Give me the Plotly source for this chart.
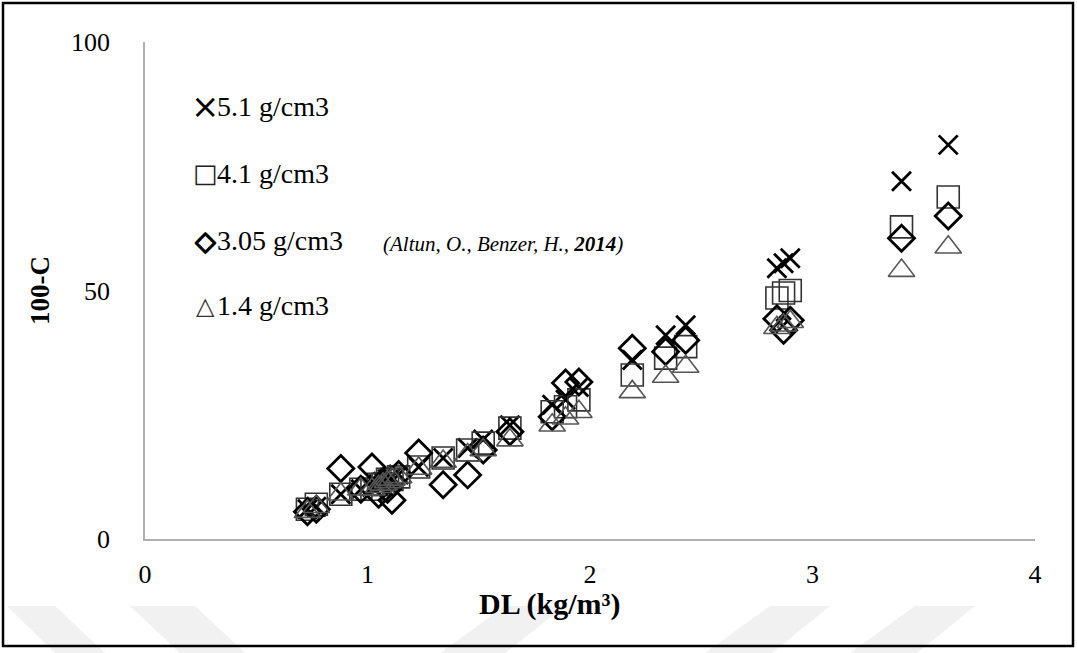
import plotly.graph_objects as go

# DL (kg/m3) values, shared by the four density series
dl = [0.73, 0.77, 0.88, 0.97, 1.02, 1.05, 1.07, 1.09, 1.11, 1.14, 1.23, 1.34, 1.45,
      1.52, 1.64, 1.83, 1.89, 1.95, 2.19, 2.34, 2.43, 2.84, 2.87, 2.90, 3.40, 3.61]

# 100-C values per density
y_51 = [6.0, 6.5, 9.0, 10.0, 10.5, 11.0, 11.5, 12.0, 12.5, 13.0, 14.5, 16.3, 18.3,
        20.0, 22.9, 27.0, 28.0, 30.6, 36.0, 41.0, 43.0, 54.5, 55.5, 56.5, 72.0, 79.3]
y_41 = [6.0, 7.0, 9.0, 10.0, 10.0, 11.0, 11.0, 12.0, 12.0, 12.5, 14.5, 16.3, 17.9,
        19.3, 22.3, 25.6, 26.6, 28.0, 33.0, 36.4, 38.7, 48.5, 49.5, 50.0, 62.8, 68.8]
y_305 = [5.5, 6.0, 14.2, 10.0, 14.5, 9.0, 11.0, 10.0, 7.8, 13.0, 17.3, 10.9, 12.9,
         17.9, 21.6, 24.6, 31.4, 31.6, 38.4, 37.7, 40.0, 44.3, 42.0, 44.0, 60.5, 65.0]
y_14 = [5.5, 6.5, 9.0, 10.0, 10.0, 10.5, 11.0, 11.5, 12.0, 12.5, 14.2, 15.6, 16.9,
        17.9, 19.9, 22.9, 24.3, 25.6, 29.6, 32.7, 34.7, 42.5, 43.0, 43.7, 54.0, 58.7]

series_names = ["5.1 g/cm3", "4.1 g/cm3", "3.05 g/cm3", "1.4 g/cm3"]
x_ticks = [0, 1, 2, 3, 4]
y_ticks = [0, 50, 100]

FONT = "Liberation Serif, Times New Roman, serif"

fig = go.Figure()
styles = [
    dict(symbol="x-thin-open", size=19, color="#000000", lw=2.8),
    dict(symbol="square-open", size=22, color="#333333", lw=1.6),
    dict(symbol="diamond-open", size=20, color="#000000", lw=2.8),
    dict(symbol="triangle-up-open", size=23, color="#555555", lw=1.6),
]
for name, ys, st in zip(series_names, [y_51, y_41, y_305, y_14], styles):
    fig.add_trace(go.Scatter(
        x=dl, y=ys, mode="markers", name=name, showlegend=False,
        marker=dict(symbol=st["symbol"], size=st["size"], color=st["color"],
                    line=dict(color=st["color"], width=st["lw"])),
    ))

# Excel-style in-plot legend: glyph + label
leg_y = [87.1, 73.6, 60.0, 46.9]
thick = "0.8px 0 0 #000, -0.8px 0 0 #000, 0 0.8px 0 #000, 0 -0.8px 0 #000"
glyphs = [("×", 34, "#000000", "none"), ("□", 26, "#222222", "none"),
          ("◇", 27, "#000000", thick), ("△", 24, "#333333", "none")]
for (g, gs, gc, sh), name, yy in zip(glyphs, series_names, leg_y):
    fig.add_annotation(x=0.27, y=yy, xref="x", yref="y", xanchor="center", yanchor="middle",
                       text=g, showarrow=False,
                       font=dict(family="DejaVu Sans", size=gs, color=gc, shadow=sh))
    fig.add_annotation(x=0.315, y=yy, xref="x", yref="y", xanchor="left", yanchor="middle",
                       text=name, showarrow=False,
                       font=dict(family=FONT, size=28, color="#000000"))
fig.add_annotation(x=1.06, y=59.4, xref="x", yref="y", xanchor="left", yanchor="middle",
                   text="<i>(Altun, O., Benzer, H., <b>2014</b>)</i>", showarrow=False,
                   font=dict(family=FONT, size=21, color="#000000"))

L, R, T, B = 145, 1035, 42, 539
W, H = R - L, B - T
def px(xp):
    return (xp - L) / W
def py(yp):
    return (B - yp) / H

# x-axis title placed left of centre, as in the source
fig.add_annotation(x=px(550), y=py(604), xref="paper", yref="paper",
                   xanchor="center", yanchor="middle", showarrow=False,
                   text="<b>DL (kg/m³)</b>", font=dict(family=FONT, size=30, color="#000000"))

shapes = []
# faint watermark stripes at the bottom
stripes = [
    [(7, 606), (55, 606), (105, 653), (55, 653)],
    [(130, 606), (195, 606), (245, 653), (180, 653)],
    [(505, 606), (565, 606), (505, 653), (440, 653)],
    [(770, 606), (830, 606), (772, 653), (705, 653)],
    [(915, 606), (975, 606), (917, 653), (850, 653)],
]
for s in stripes:
    path = "M " + " L ".join(f"{px(a):.4f},{py(b):.4f}" for a, b in s) + " Z"
    shapes.append(dict(type="path", xref="paper", yref="paper", path=path,
                       fillcolor="#f1f1f1", line=dict(width=0), layer="below"))
# outer frame
shapes.append(dict(type="rect", xref="paper", yref="paper",
                   x0=px(3), x1=px(1073), y0=py(646), y1=py(3),
                   line=dict(color="#000000", width=2.5), fillcolor="rgba(0,0,0,0)"))

fig.update_layout(
    width=1077, height=653,
    margin=dict(l=L, r=1077 - R, t=T, b=653 - B),
    paper_bgcolor="#ffffff", plot_bgcolor="rgba(0,0,0,0)",
    font=dict(family=FONT, size=26, color="#000000"),
    shapes=shapes,
    xaxis=dict(range=[0, 4], tickvals=x_ticks, showgrid=False, zeroline=False,
               showline=True, linecolor="#b0b0b0", linewidth=1.5, ticks="",
               ticklabelstandoff=11),
    yaxis=dict(range=[0, 100], tickvals=y_ticks, showgrid=False, zeroline=False,
               showline=True, linecolor="#b0b0b0", linewidth=1.5, ticks="",
               ticklabelstandoff=28,
               title=dict(text="<b>100-C</b>", standoff=14,
                          font=dict(family=FONT, size=27))),
)

fig.write_html("out.html", config={"displayModeBar": False},
               post_script="document.body.style.margin='0';")
